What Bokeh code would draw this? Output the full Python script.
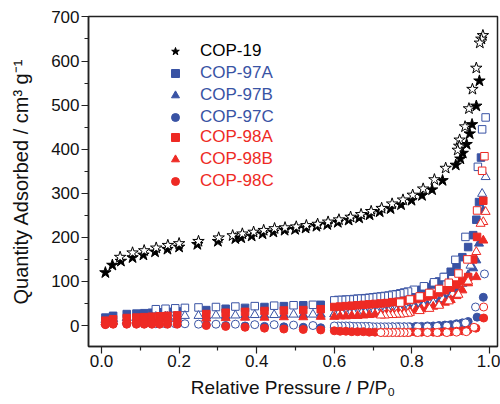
from bokeh.plotting import figure
from bokeh.models import Range1d, FixedTicker, PrintfTickFormatter, Legend, LegendItem
from bokeh.embed import file_html
from bokeh.resources import INLINE

BLUE = "#3953a4"
RED = "#ee2a24"
FONT = "Liberation Sans"

# ---------------- data ----------------
# COP-19
COP19_ADS_X = [0.01, 0.028, 0.05, 0.08, 0.108, 0.138, 0.17, 0.2, 0.247, 0.3, 0.345, 0.36, 0.387, 0.415,
               0.443, 0.472, 0.499, 0.526, 0.554, 0.582, 0.609, 0.637, 0.664, 0.691, 0.717, 0.745, 0.772,
               0.799, 0.826, 0.852, 0.879, 0.913, 0.925, 0.931, 0.941, 0.949, 0.955, 0.966, 0.974]
COP19_ADS_Y = [120, 137, 146, 154, 160, 167, 173, 178, 184, 191, 197, 199, 203, 208,
               212, 216, 218, 221, 225, 229, 234, 239, 244, 251, 258, 265, 274,
               284, 295, 308, 329, 364, 378, 391, 411, 435, 456, 498, 555]
COP19_DES_X = [0.983, 0.979, 0.975, 0.966, 0.956, 0.947, 0.937, 0.923, 0.922, 0.918, 0.887, 0.858, 0.829,
               0.802, 0.777, 0.749, 0.722, 0.695, 0.669, 0.642, 0.612, 0.584, 0.557, 0.528, 0.502, 0.473,
               0.446, 0.418, 0.392, 0.363, 0.338, 0.302, 0.25, 0.2, 0.171, 0.141, 0.11, 0.08, 0.048]
COP19_DES_Y = [658, 650, 641, 584, 536, 492, 451, 421, 407, 398, 357, 331, 310,
               296, 285, 276, 266, 259, 252, 246, 240, 235, 230, 227, 224, 222,
               220, 216, 212, 208, 204, 199, 191, 186, 182, 176, 170, 165, 155]

# shared pressure grids of the COP-97 / COP-98 isotherms
X_ADS_LOW = [0.01, 0.03, 0.065, 0.09, 0.11, 0.13, 0.15, 0.17, 0.195, 0.27, 0.32, 0.37, 0.42, 0.47, 0.52, 0.565]
X_ADS_MID = [0.600, 0.615, 0.630, 0.645, 0.660, 0.675, 0.690, 0.705, 0.720, 0.735, 0.750, 0.765,
             0.780, 0.795, 0.810, 0.825, 0.840, 0.855, 0.870, 0.885, 0.900, 0.915, 0.930, 0.945]
X_DES_MID = [0.79, 0.78, 0.77, 0.76, 0.75, 0.74, 0.73, 0.72, 0.71, 0.70,
             0.69, 0.68, 0.67, 0.66, 0.65, 0.64, 0.63, 0.62, 0.61, 0.60]
X_DES_MID_SHORT = [0.79, 0.78, 0.77, 0.76, 0.75, 0.74, 0.73, 0.72]
X_DES_LOW = [0.545, 0.495, 0.445, 0.395, 0.345, 0.295, 0.25, 0.215, 0.19, 0.165, 0.14]

# COP-97A
A97_ADS_LOW = [18, 22, 26, 27, 28, 29, 30, 31, 32, 35, 38, 40, 42, 44, 46, 47]
A97_ADS_MID = [48, 49, 50, 51, 52, 54, 55, 57, 59, 61, 63, 66, 69, 72, 76, 81, 87, 93, 100, 110, 122, 137, 155, 178]
A97_ADS_HIGH_X = [0.958, 0.966, 0.973, 0.978]
A97_ADS_HIGH_Y = [205, 240, 280, 381]
A97_DES_HIGH_X = [0.99, 0.981, 0.97, 0.938, 0.912, 0.882, 0.857, 0.831, 0.805]
A97_DES_HIGH_Y = [472, 445, 360, 201, 149, 110, 98, 89, 81]
A97_DES_MID = [77, 75, 73, 71, 70, 68, 67, 66, 65, 64, 63, 62, 61, 61, 60, 59, 59, 58, 58, 57]
A97_DES_LOW = [47, 46, 45, 44, 43, 42, 41, 40, 39, 38, 37]

# COP-97B
B97_ADS_LOW = [13, 15, 17, 18, 18, 19, 19, 20, 20, 21, 22, 23, 23, 24, 24, 25]
B97_ADS_MID = [26, 26, 27, 27, 28, 28, 29, 30, 31, 32, 33, 35, 37, 39, 41, 44, 47, 51, 56, 62, 70, 81, 96, 115]
B97_ADS_HIGH_X = [0.958, 0.966, 0.973, 0.984]
B97_ADS_HIGH_Y = [130, 148, 186, 261]
B97_DES_HIGH_X = [0.99, 0.981, 0.951, 0.93, 0.905, 0.88, 0.855, 0.83, 0.805]
B97_DES_HIGH_Y = [337, 299, 136, 95, 72, 60, 52, 45, 40]
B97_DES_MID = [36, 35, 34, 33, 33, 32, 31, 31, 30, 30, 29, 29, 28, 28, 28, 27, 27, 27, 26, 26]
B97_DES_LOW = [25, 25, 24, 24, 23, 23, 22, 22, 21, 21, 20]

# COP-97C
C97_ADS_LOW = [3, 4, 4, 4, 4, 4, 4, 4, 4, 2, 0, -1, -2, -3, -4, -5]
C97_ADS_MID = [-4, -4, -4, -4, -4, -4, -4, -4, -4, -4, -3, -3, -3, -3, -2, -2, -1, -1, 0, 1, 2, 4, 6, 9]
C97_ADS_HIGH_X = [0.968, 0.984]
C97_ADS_HIGH_Y = [19, 64]
C97_DES_HIGH_X = [0.987, 0.964, 0.938, 0.915, 0.89, 0.865, 0.84, 0.815]
C97_DES_HIGH_Y = [117, 42, 6, 1, -1, -2, -3, -3]
C97_DES_MID = [-3, -3, -3, -3, -3, -3, -3, -3, -3, -3, -2, -2, -2, -2, -2, -1, -1, -1, -1, -1]
C97_DES_LOW = [0, 1, 2, 2, 3, 3, 3, 4, 4, 4, 4]

# COP-98A
A98_ADS_LOW = [11, 14, 17, 18, 19, 20, 21, 22, 23, 26, 29, 31, 33, 34, 35, 37]
A98_ADS_MID = [42, 43, 44, 45, 46, 47, 48, 49, 50, 51, 53, 54, 56, 58, 60, 63, 66, 70, 75, 80, 86, 93, 101, 110]
A98_ADS_HIGH_X = [0.958, 0.968, 0.984]
A98_ADS_HIGH_Y = [150, 201, 283]
A98_DES_X = [0.987, 0.981, 0.968, 0.943, 0.92, 0.895, 0.87, 0.845, 0.82, 0.795, 0.77]
A98_DES_Y = [384, 351, 261, 150, 118, 97, 83, 74, 66, 59, 52]

# COP-98B
B98_ADS_LOW = [7, 9, 11, 12, 13, 14, 14, 15, 15, 16, 17, 18, 18, 19, 19, 20]
B98_ADS_MID = [20, 21, 21, 22, 22, 23, 24, 25, 26, 27, 28, 30, 31, 33, 35, 37, 40, 43, 47, 52, 58, 67, 80, 96]
B98_ADS_HIGH_X = [0.966, 0.984]
B98_ADS_HIGH_Y = [110, 193]
B98_DES_HIGH_X = [0.99, 0.984, 0.977, 0.966, 0.945, 0.92, 0.895, 0.87, 0.845, 0.82, 0.795]
B98_DES_HIGH_Y = [258, 235, 231, 167, 100, 70, 55, 45, 38, 33, 29]
B98_DES_MID = [27, 26, 25, 25, 24, 24, 23, 23]

# COP-98C
C98_ADS_LOW = [2, 3, 3, 3, 3, 3, 3, 3, 3, 0, -2, -4, -6, -8, -9, -10]
C98_ADS_MID = [-12, -13, -13, -14, -14, -14, -15, -15, -15, -15, -15, -15, -15, -15, -15, -15, -15, -15, -15, -14, -14, -13, -12, -10]
C98_ADS_HIGH_X = [0.965, 0.985]
C98_ADS_HIGH_Y = [-6, 17]
C98_DES_HIGH_X = [0.985, 0.96, 0.94, 0.915, 0.89, 0.865, 0.84, 0.815]
C98_DES_HIGH_Y = [42, -4, -14, -15, -16, -16, -16, -16]
C98_DES_MID = [-16, -16, -16, -16, -16, -16, -16, -16]

X_TICKS = [0.0, 0.2, 0.4, 0.6, 0.8, 1.0]
X_MINOR = [0.1, 0.3, 0.5, 0.7, 0.9]
Y_TICKS = [0, 100, 200, 300, 400, 500, 600, 700]
Y_MINOR = [50, 150, 250, 350, 450, 550, 650]

# ---------------- figure ----------------
p = figure(width=500, height=404, output_backend="svg", toolbar_location=None,
           x_range=Range1d(-0.0335, 1.0206), y_range=Range1d(-47.6, 701),
           min_border_left=88, min_border_right=3, min_border_top=16, min_border_bottom=58)
p.xgrid.visible = False
p.ygrid.visible = False
p.outline_line_color = "#222222"
p.outline_line_width = 1.5
p.background_fill_color = "white"
p.border_fill_color = "white"

for ax in (p.xaxis[0], p.yaxis[0]):
    ax.axis_line_width = 1.5
    ax.axis_line_color = "#222222"
    ax.major_tick_line_color = "#222222"
    ax.minor_tick_line_color = "#222222"
    ax.major_tick_line_width = 1.2
    ax.minor_tick_line_width = 1.2
    ax.major_tick_in = 0
    ax.major_tick_out = 7
    ax.minor_tick_in = 0
    ax.minor_tick_out = 4
    ax.major_label_text_font = FONT
    ax.major_label_text_font_size = "17px"
    ax.major_label_text_color = "#111111"
    ax.axis_label_text_font = FONT
    ax.axis_label_text_font_style = "normal"
    ax.axis_label_text_color = "#111111"

p.xaxis.axis_label_text_font_size = "19px"
p.yaxis.axis_label_text_font_size = "20px"
p.xaxis.ticker = FixedTicker(ticks=X_TICKS, minor_ticks=X_MINOR)
p.yaxis.ticker = FixedTicker(ticks=Y_TICKS, minor_ticks=Y_MINOR)
p.xaxis.formatter = PrintfTickFormatter(format="%.1f")
p.yaxis.formatter = PrintfTickFormatter(format="%d")
p.xaxis.major_label_standoff = 1
p.yaxis.major_label_standoff = 2
p.yaxis.axis_label = "Quantity Adsorbed / cm\u00b3 g\u207b\u00b9"
p.yaxis.axis_label_standoff = 16
p.xaxis.axis_label = "Relative Pressure / P/P\u2080"
p.xaxis.axis_label_standoff = 7


def filled(xs, ys, marker, color, size):
    return p.scatter(xs, ys, marker=marker, size=size, fill_color=color, line_color=color, line_width=1)


def opened(xs, ys, marker, color, size):
    return p.scatter(xs, ys, marker=marker, size=size, fill_color="white", line_color=color, line_width=1)


SQ, TR, CI, ST = 7.5, 9, 8, 12

r19 = filled(COP19_ADS_X, COP19_ADS_Y, "star", "black", ST)
opened(COP19_DES_X, COP19_DES_Y, "star", "black", ST)

rA97 = filled(X_ADS_LOW + X_ADS_MID + A97_ADS_HIGH_X, A97_ADS_LOW + A97_ADS_MID + A97_ADS_HIGH_Y, "square", BLUE, SQ)
opened(A97_DES_HIGH_X + X_DES_MID + X_DES_LOW, A97_DES_HIGH_Y + A97_DES_MID + A97_DES_LOW, "square", BLUE, SQ)
rB97 = filled(X_ADS_LOW + X_ADS_MID + B97_ADS_HIGH_X, B97_ADS_LOW + B97_ADS_MID + B97_ADS_HIGH_Y, "triangle", BLUE, TR)
opened(B97_DES_HIGH_X + X_DES_MID + X_DES_LOW, B97_DES_HIGH_Y + B97_DES_MID + B97_DES_LOW, "triangle", BLUE, TR)
rC97 = filled(X_ADS_LOW + X_ADS_MID + C97_ADS_HIGH_X, C97_ADS_LOW + C97_ADS_MID + C97_ADS_HIGH_Y, "circle", BLUE, CI)
opened(C97_DES_HIGH_X + X_DES_MID + X_DES_LOW, C97_DES_HIGH_Y + C97_DES_MID + C97_DES_LOW, "circle", BLUE, CI)

rA98 = filled(X_ADS_LOW + X_ADS_MID + A98_ADS_HIGH_X, A98_ADS_LOW + A98_ADS_MID + A98_ADS_HIGH_Y, "square", RED, SQ)
opened(A98_DES_X, A98_DES_Y, "square", RED, SQ)
rB98 = filled(X_ADS_LOW + X_ADS_MID + B98_ADS_HIGH_X, B98_ADS_LOW + B98_ADS_MID + B98_ADS_HIGH_Y, "triangle", RED, TR)
opened(B98_DES_HIGH_X + X_DES_MID_SHORT, B98_DES_HIGH_Y + B98_DES_MID, "triangle", RED, TR)
rC98 = filled(X_ADS_LOW + X_ADS_MID + C98_ADS_HIGH_X, C98_ADS_LOW + C98_ADS_MID + C98_ADS_HIGH_Y, "circle", RED, CI)
opened(C98_DES_HIGH_X + X_DES_MID_SHORT, C98_DES_HIGH_Y + C98_DES_MID, "circle", RED, CI)


def make_legend(items, color, loc):
    leg = Legend(items=[LegendItem(label=l, renderers=[r]) for l, r in items], location=loc,
                 label_text_font=FONT, label_text_font_size="17px", label_text_color=color,
                 glyph_width=20, glyph_height=20, label_height=20, label_standoff=15, spacing=2,
                 padding=0, margin=0, border_line_alpha=0, background_fill_alpha=0)
    p.add_layout(leg, "center")


make_legend([("COP-19", r19)], "black", (77, 285))
make_legend([("COP-97A", rA97), ("COP-97B", rB97), ("COP-97C", rC97)], BLUE, (77, 219))
make_legend([("COP-98A", rA98), ("COP-98B", rB98), ("COP-98C", rC98)], RED, (77, 155))

open("out.html", "w").write(file_html(p, INLINE))
